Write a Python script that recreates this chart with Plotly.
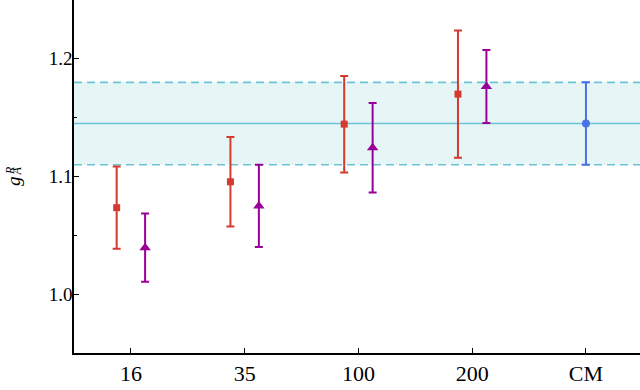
import plotly.graph_objects as go

tick_labels = ["16", "35", "100", "200", "CM"]
tick_pos = [0, 1, 2, 3, 4]

# red squares
red_x = [-0.125, 0.875, 1.875, 2.875]
red_y = [1.0735, 1.0955, 1.1445, 1.170]
red_err = [0.035, 0.038, 0.041, 0.054]

# purple triangles
pur_x = [0.125, 1.125, 2.125, 3.125]
pur_y = [1.0395, 1.075, 1.1245, 1.1765]
pur_err = [0.029, 0.035, 0.038, 0.031]

# blue circle (CM)
blue_x = [4]
blue_y = [1.145]
blue_err = [0.035]

band_center = 1.145
band_lo = 1.11
band_hi = 1.18

RED = "#d43a30"
PUR = "#990099"
BLUE = "#4a72e8"
BAND_LINE = "#6cc3d3"
BAND_FILL = "rgba(200,232,236,0.45)"

fig = go.Figure()

fig.add_shape(type="rect", xref="paper", yref="y", x0=0, x1=1, y0=band_lo, y1=band_hi,
              fillcolor=BAND_FILL, line_width=0, layer="below")
for yv, dash in [(band_lo, "8px,5px"), (band_hi, "8px,5px"), (band_center, "solid")]:
    fig.add_shape(type="line", xref="paper", yref="y", x0=0, x1=1, y0=yv, y1=yv,
                  line=dict(color=BAND_LINE, width=1.6, dash=dash), layer="below")

fig.add_trace(go.Scatter(x=red_x, y=red_y, mode="markers",
                         marker=dict(symbol="square", size=7, color=RED),
                         error_y=dict(type="data", array=red_err, color=RED, thickness=2, width=4)))
fig.add_trace(go.Scatter(x=pur_x, y=pur_y, mode="markers",
                         marker=dict(symbol="triangle-up", size=10, color=PUR),
                         error_y=dict(type="data", array=pur_err, color=PUR, thickness=2, width=4)))
fig.add_trace(go.Scatter(x=blue_x, y=blue_y, mode="markers",
                         marker=dict(symbol="circle", size=8, color=BLUE),
                         error_y=dict(type="data", array=blue_err, color=BLUE, thickness=2, width=4)))

FONT = "'Liberation Serif', 'Times New Roman', Times, serif"
L, B, W, H = 74, 37, 640, 390
PW, PH = W - L, H - B

def px(x):
    return (x - L) / PW

def py(y):
    return (PH - y) / PH

fig.update_layout(
    width=W, height=H,
    margin=dict(l=L, r=0, t=0, b=B),
    plot_bgcolor="white", paper_bgcolor="white",
    showlegend=False,
    font=dict(family=FONT, size=18, color="black"),
    xaxis=dict(range=[-0.5, 4.475], tickvals=tick_pos, ticktext=tick_labels,
               showgrid=False, zeroline=False, showline=True, linecolor="black", linewidth=1.5,
               ticks="inside", ticklen=5, tickwidth=1, tickcolor="black",
               tickfont=dict(family=FONT, size=22)),
    yaxis=dict(range=[0.95, 1.25], tickvals=[1.0, 1.1, 1.2], ticktext=["1.0", "1.1", "1.2"],
               showgrid=False, zeroline=False, showline=True, linecolor="black", linewidth=1.5,
               ticks="inside", ticklen=5, tickwidth=1, tickcolor="black",
               ticklabelstandoff=-4,
               minor=dict(ticks="inside", ticklen=3, tickcolor="black", tickvals=[1.05, 1.15]),
               tickfont=dict(family=FONT, size=19)),
)

for txt, xx, yy, sz in [("<i>g</i>", 13, 181, 19), ("<i>R</i>", 9.5, 170.5, 12), ("<i>A</i>", 16.5, 171, 12)]:
    fig.add_annotation(x=px(xx), y=py(yy), xref="paper", yref="paper", text=txt,
                       xanchor="center", yanchor="middle",
                       textangle=-90, showarrow=False, font=dict(family=FONT, size=sz))

fig.write_html("out.html")
